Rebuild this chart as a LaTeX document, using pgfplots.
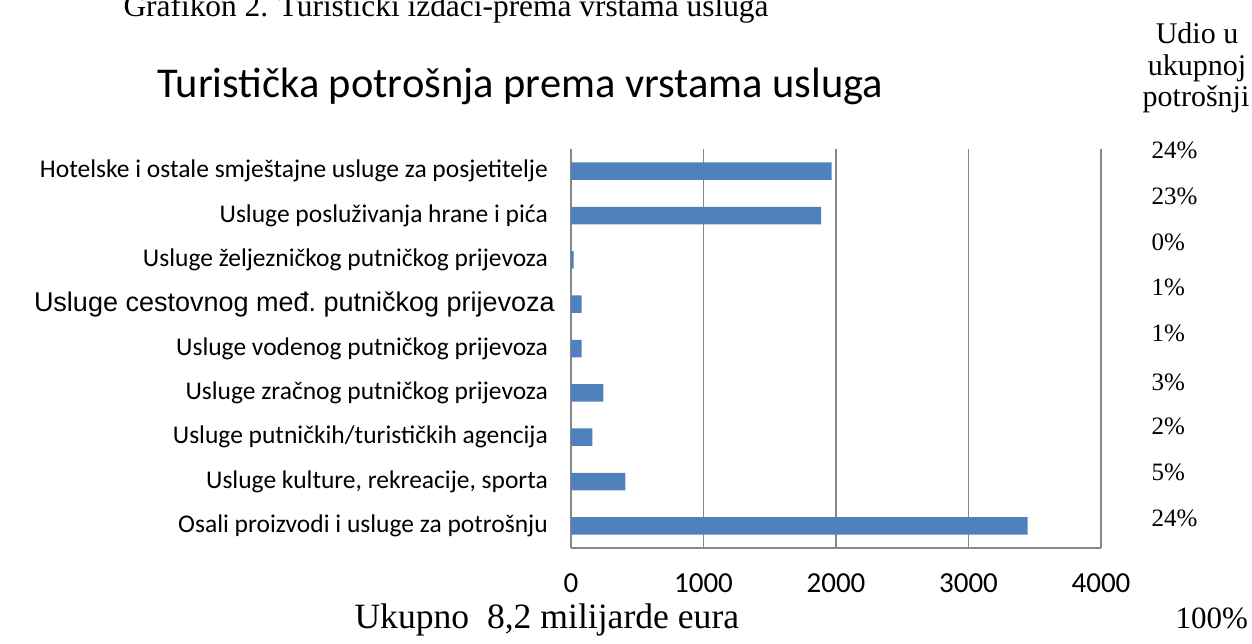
\documentclass[border=0pt]{standalone}
\usepackage{pgfplots}
\pgfplotsset{compat=1.18}
\usepackage{fontspec}
\setmainfont{Carlito}
\newfontfamily\timesf{Liberation Serif}
\newfontfamily\arialf{Liberation Sans}
\definecolor{barblue}{HTML}{4F81BD}
\definecolor{gridgray}{HTML}{878787}
\begin{document}
\begin{tikzpicture}
\useasboundingbox (0,0) rectangle (1252pt,643pt);
\clip (0,0) rectangle (1252pt,643pt);
\begin{axis}[
  at={(571pt,95pt)}, anchor=south west, scale only axis,
  width=530pt, height=399pt,
  xmin=0, xmax=4000, ymin=-0.5, ymax=8.5, y dir=reverse,
  xbar, bar width=17.5pt,
  axis x line*=bottom, axis y line*=left,
  axis line style={gridgray, line width=1.3pt, -},
  xtick={0,1000,2000,3000,4000}, xticklabels={0,1000,2000,3000,4000},
  ytick={0,1,2,3,4,5,6,7,8},
  yticklabels={Hotelske i ostale smještajne usluge za posjetitelje,
    Usluge posluživanja hrane i pića,
    Usluge željezničkog putničkog prijevoza,
    {\arialf\fontsize{27}{31}\selectfont\hspace*{0pt}Usluge cestovnog međ.\ putničkog prijevoza\hspace*{-7pt}},
    Usluge vodenog putničkog prijevoza,
    Usluge zračnog putničkog prijevoza,
    Usluge putničkih/turističkih agencija,
    {Usluge kulture, rekreacije, sporta},
    Osali proizvodi i usluge za potrošnju},
  tick style={draw=none}, major tick length=0pt,
  xmajorgrids, major grid style={gridgray, line width=1.3pt},
  yticklabel style={font=\fontsize{25.5}{30}\selectfont, inner sep=0pt, xshift=-23pt},
  xticklabel style={font=\fontsize{29}{34}\selectfont, inner sep=0pt, yshift=-25.5pt},
]
\addplot[fill=barblue, draw=none] coordinates {(1967,0) (1887,1) (20,2) (80,3) (80,4) (244,5) (161,6) (410,7) (3446,8)};
\end{axis}
\node[anchor=base, font=\fontsize{42.5}{50}\selectfont] at (520.5pt,545pt) {Turistička potrošnja prema vrstama usluga};
\node[anchor=base west, font=\timesf\fontsize{31.4}{36}\selectfont] at (120pt,626pt) {Grafikon 2. Turistički izdaci-prema vrstama usluga};
\begin{scope}[every node/.style={anchor=base, font=\timesf\fontsize{30}{35}\selectfont}]
\node at (1197pt,599pt) {Udio u};
\node at (1197pt,567pt) {ukupnoj};
\node at (1196pt,536pt) {potrošnji};
\end{scope}
\begin{scope}[every node/.style={anchor=base west, font=\timesf\fontsize{25}{30}\selectfont}]
\node at (1148pt,484.5pt) {24\%};
\node at (1148pt,438.5pt) {23\%};
\node at (1148pt,392.5pt) {0\%};
\node at (1148pt,347.5pt) {1\%};
\node at (1148pt,301.5pt) {1\%};
\node at (1148pt,252.5pt) {3\%};
\node at (1148pt,208.5pt) {2\%};
\node at (1148pt,162.5pt) {5\%};
\node at (1148pt,116.5pt) {24\%};
\end{scope}
\node[anchor=base west, font=\timesf\fontsize{35.6}{42}\selectfont] at (351pt,15pt) {Ukupno\ \ 8,2 milijarde eura};
\node[anchor=base west, font=\timesf\fontsize{31}{36}\selectfont] at (1172pt,15pt) {100\%};
\end{tikzpicture}
\end{document}
